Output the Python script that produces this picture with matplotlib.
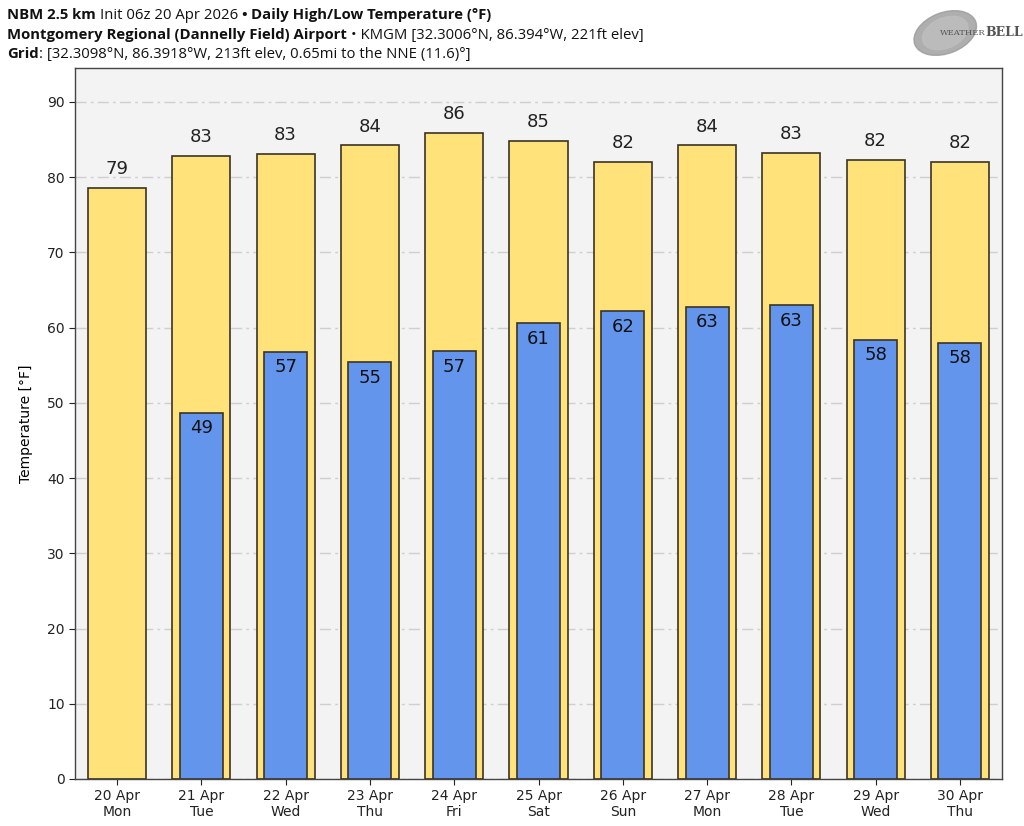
import numpy as np
import matplotlib
matplotlib.use("Agg")
import matplotlib.pyplot as plt
from matplotlib.patches import Ellipse

# Data
dates = ["20 Apr", "21 Apr", "22 Apr", "23 Apr", "24 Apr", "25 Apr",
         "26 Apr", "27 Apr", "28 Apr", "29 Apr", "30 Apr"]
weekdays = ["Mon", "Tue", "Wed", "Thu", "Fri", "Sat",
            "Sun", "Mon", "Tue", "Wed", "Thu"]
highs = [78.6, 82.8, 83.1, 84.2, 85.9, 84.8, 82.0, 84.2, 83.2, 82.3, 82.0]
lows = [np.nan, 48.7, 56.8, 55.4, 56.9, 60.6, 62.2, 62.8, 63.0, 58.4, 58.0]

high_color = "#ffe27a"
low_color = "#6495ed"
edge_color = "#3b3325"

plt.rcParams['font.family'] = ['DejaVu Sans']

fig = plt.figure(figsize=(10.24, 8.26), dpi=100)
ax = fig.add_axes([75 / 1024, 1 - 779 / 826, 927 / 1024, 711 / 826])
ax.set_facecolor("#f3f3f3")

x = np.arange(len(dates))
ax.bar(x, highs, width=0.69, color=high_color, edgecolor=edge_color, linewidth=1.2, zorder=2)
ax.bar(x, lows, width=0.51, color=low_color, edgecolor=edge_color, linewidth=1.2, zorder=3)

for i in range(len(dates)):
    ax.text(x[i], highs[i] + 1.3, "%d" % round(highs[i]), ha="center", va="bottom",
            fontsize=13, color="#222222", zorder=4)
    if not np.isnan(lows[i]):
        ax.text(x[i], lows[i] - 0.9, "%d" % round(lows[i]), ha="center", va="top",
                fontsize=13, color="#111111", zorder=4)

ax.set_xlim(-0.5, len(dates) - 0.5)
ax.set_ylim(0, 94.5)
ax.set_yticks(np.arange(0, 91, 10))
ax.set_xticks(x)
ax.set_xticklabels([d + "\n" + w for d, w in zip(dates, weekdays)], fontsize=10, linespacing=1.1)
ax.tick_params(axis="y", labelsize=10)
ax.tick_params(colors="#222222", length=4)
ax.yaxis.grid(True, linestyle=(0, (8, 3, 2, 3)), color="#cfcfcf", linewidth=1, zorder=0)
ax.set_axisbelow(True)
for s in ax.spines.values():
    s.set_color("#444444")
    s.set_linewidth(1.0)
ax.set_ylabel("Temperature [°F]", fontsize=10, labelpad=10)

# header lines with mixed weights
renderer = fig.canvas.get_renderer()


def header(y, parts):
    xpos = 7 / 1024
    for txt, bold in parts:
        t = fig.text(xpos, y, txt, fontsize=10.7, fontweight="bold" if bold else "normal",
                     family="Open Sans", color="#111111", va="baseline")
        bb = t.get_window_extent(renderer=renderer)
        xpos += bb.width / 1024


header(1 - 19 / 826, [("NBM 2.5 km ", True), ("Init 06z 20 Apr 2026 ", False), ("• ", True),
                      ("Daily High/Low Temperature (°F)", True)])
header(1 - 39 / 826, [("Montgomery Regional (Dannelly Field) Airport ", True),
                      ("• KMGM [32.3006°N, 86.394°W, 221ft elev]", False)])
header(1 - 58 / 826, [("Grid", True),
                      (": [32.3098°N, 86.3918°W, 213ft elev, 0.65mi to the NNE (11.6)°]", False)])

# logo approximation
lax = fig.add_axes([905 / 1024, 1 - 62 / 826, 115 / 1024, 58 / 826])
lax.set_xlim(0, 1)
lax.set_ylim(0, 1)
lax.axis("off")
lax.add_patch(Ellipse((0.35, 0.5), 0.5, 0.8, angle=-20, color="#9a9a9a", alpha=0.8))
lax.add_patch(Ellipse((0.35, 0.5), 0.36, 0.6, angle=-20, color="#bdbdbd", alpha=0.9))
lax.text(0.3, 0.5, "WEATHER", fontsize=6, color="#555555", va="center", ha="left", family="DejaVu Serif")
lax.text(0.7, 0.5, "BELL", fontsize=9, color="#555555", va="center", ha="left", family="DejaVu Serif",
         fontweight="bold")

fig.savefig("out.png", dpi=100)
